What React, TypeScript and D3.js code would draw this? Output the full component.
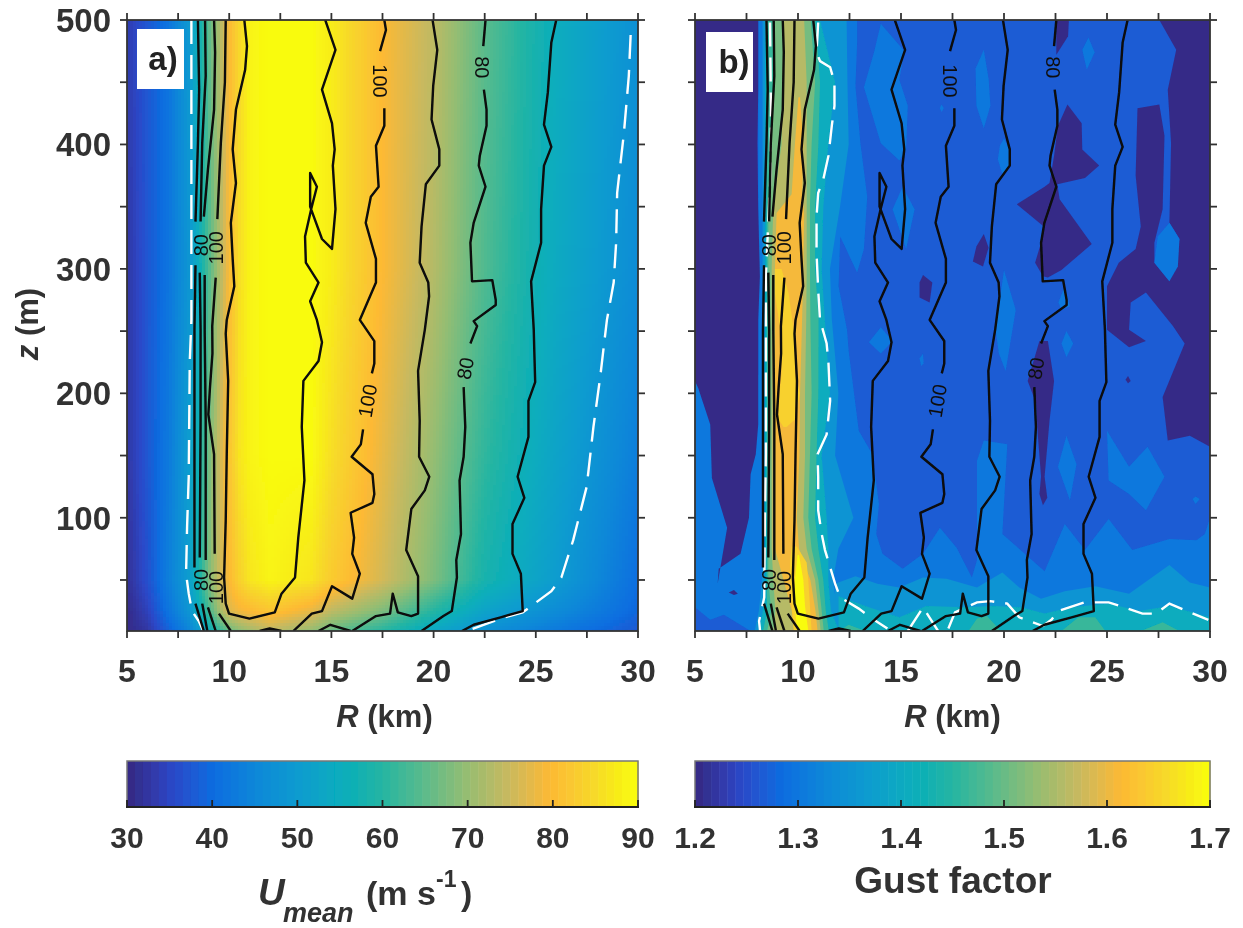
import React, { useRef, useEffect } from "react";
import * as d3 from "d3";

type Pt = [number, number];

// tick labels
const rTicks = [5, 10, 15, 20, 25, 30];
const rMinorTicks = [5, 7.5, 10, 12.5, 15, 17.5, 20, 22.5, 25, 27.5, 30];
const zTicks = [100, 200, 300, 400, 500];
const zMinorTicks = [50, 100, 150, 200, 250, 300, 350, 400, 450, 500];
const uTicks = [30, 40, 50, 60, 70, 80, 90];
const gustTicks = [1.2, 1.3, 1.4, 1.5, 1.6, 1.7];

const colorStops = ["#352a87", "#2c48c8", "#0a6ee0", "#1088d8", "#0a9ccf", "#07adbd", "#25b5a2", "#5bbb8b", "#95bd72", "#c8b95f", "#fdb934", "#f7d72b", "#f9fb0e"];

// panel a, mean wind read along rows of constant height
const fieldR = [5, 6, 7, 8, 8.5, 9, 9.5, 10, 10.5, 11, 12, 14, 15, 17.5, 20, 22.5, 26, 30];
const fieldZ = [500, 300, 150, 50, 25, 9];
const u500 = [33, 37, 41, 49, 56, 65, 72, 80, 85, 89, 90, 90, 88, 80, 74, 65, 55, 47];
const u300 = [32, 37, 41, 48, 55, 64, 72, 80, 86, 89, 90, 90, 88, 80, 73, 64, 54, 46];
const u150 = [32, 37, 42, 50, 57, 67, 75, 82, 87, 89, 90, 90, 86, 78, 70, 61, 52, 43];
const u50 = [31, 36, 43, 50, 58, 68, 75, 80, 84, 87, 89, 87, 83, 76, 68, 58, 50, 40];
const u25 = [30, 34, 41, 48, 55, 63, 71, 77, 79, 80, 82, 78, 74, 68, 60, 52, 46, 39];
const u9 = [30, 32, 38, 44, 49, 55, 61, 66, 69, 71, 74, 70, 66, 60, 53, 47, 42, 37];
const fieldRows = [u500, u300, u150, u50, u25, u9];

// black contours, shared by both panels, broken where labels sit
const c60: Pt[] = [[26, 500], [25.76, 482], [25.59, 442], [25.4, 416], [25.76, 398], [25.4, 383], [25.26, 348], [25.26, 321], [24.77, 290], [24.9, 251], [24.93, 232], [24.97, 209], [24.64, 194], [24.64, 165], [24.11, 133], [24.44, 116], [23.86, 95], [23.86, 71], [24.27, 55], [24.36, 25], [23.28, 20], [21.96, 14], [21.39, 9]];
const c80a: Pt[] = [[22.54, 500], [22.43, 479]];
const c80b: Pt[] = [[22.46, 444], [22.59, 428], [22.59, 415], [22.26, 391], [22.21, 383], [22.54, 366], [21.96, 337], [21.8, 321], [21.88, 290], [22.87, 291], [23.04, 275], [23.04, 271], [21.96, 258], [22.13, 254], [21.8, 240]];
const c80c: Pt[] = [[21.47, 205], [21.55, 173], [21.47, 149], [21.27, 130], [21.34, 87], [21.11, 66], [21.14, 52], [20.89, 25], [20.48, 21], [19.41, 9]];
const c90: Pt[] = [[19.95, 500], [20.18, 476], [19.98, 447], [19.9, 420], [20.28, 396], [20.28, 383], [19.62, 368], [19.41, 334], [19.32, 305], [19.74, 289], [19.78, 278], [19.57, 251], [19.24, 218], [19.32, 178], [19.29, 149], [19.79, 133], [19.57, 122], [18.91, 107], [18.66, 74], [19.24, 53], [19.24, 23], [18.91, 21], [18.25, 24], [18, 39], [17.87, 23], [17.18, 21], [16.02, 9]];
const c100a: Pt[] = [[17.59, 500], [17.67, 492], [17.38, 475]];
const c100b: Pt[] = [[17.59, 429], [17.59, 415], [17.18, 399], [17.31, 366], [16.93, 358], [16.68, 337], [17.18, 308], [17.18, 289], [16.39, 259], [17.1, 242], [17.1, 224], [16.98, 216]];
const c100c: Pt[] = [[16.55, 171], [16.44, 159], [15.99, 149], [17.01, 135], [17.1, 119], [17.01, 112], [15.94, 104], [16.11, 84], [16.02, 71], [16.39, 55], [16.02, 35], [15.03, 45], [14.54, 25], [14.04, 23], [13.14, 9]];
const bump1: Pt[] = [[14.37, 9], [14.95, 14], [15.94, 9]];
const bump2: Pt[] = [[11.49, 9], [11.98, 11], [12.56, 9]];
const c110: Pt[] = [[14.7, 500], [15.2, 476], [14.54, 444], [15.03, 417], [15.16, 396], [15.07, 383], [15.2, 348], [15.03, 316], [14.54, 324], [13.96, 350], [13.96, 377], [14.29, 366], [14.01, 348], [13.71, 326], [13.75, 305], [14.37, 289], [13.96, 274], [14.29, 259], [14.54, 241], [14.37, 226], [13.63, 210], [13.55, 173], [13.68, 130], [13.38, 84], [13.22, 52], [12.56, 39], [12.23, 24], [10.99, 19], [9.99, 23], [9.83, 31], [9.75, 52], [9.83, 98], [9.88, 151], [9.95, 210], [9.83, 248], [9.88, 259], [10.25, 286], [10.17, 308], [10.08, 337], [10.33, 369], [10.17, 396], [10.33, 428], [10.78, 460], [10.87, 479], [10.74, 500]];
const leftA1: Pt[] = [[9.83, 500], [9.79, 450], [9.59, 401], [9.42, 340]];
const leftA2: Pt[] = [[9.34, 293], [9.17, 254], [9.18, 232], [9.06, 205], [8.98, 183], [9.26, 151], [9.29, 71]];
const leftA3: Pt[] = [[9.5, 23], [10.08, 9]];
const leftB1: Pt[] = [[9.26, 500], [9.31, 474], [9.26, 428], [8.96, 380], [8.76, 342]];
const leftB2: Pt[] = [[8.8, 295], [8.8, 251], [8.85, 178], [8.85, 66]];
const leftB3: Pt[] = [[8.96, 28], [9.34, 9]];
const leftC1: Pt[] = [[8.82, 500], [8.85, 455], [8.68, 401], [8.6, 338]];
const leftC2: Pt[] = [[8.56, 297], [8.6, 251], [8.6, 178], [8.56, 68]];
const leftC3: Pt[] = [[8.68, 31], [8.93, 9]];
const leftD1: Pt[] = [[8.47, 500], [8.53, 444], [8.47, 401], [8.35, 338]];
const leftD2: Pt[] = [[8.35, 303], [8.3, 251], [8.3, 178], [8.3, 60]];
const leftD3: Pt[] = [[8.35, 31], [8.76, 9]];
const contourLines = [c60, c80a, c80b, c80c, c90, c100a, c100b, c100c, bump1, bump2, c110, leftA1, leftA2, leftA3, leftB1, leftB2, leftB3, leftC1, leftC2, leftC3, leftD1, leftD2, leftD3];

const contourLabelText = ["100", "80", "80", "100", "80", "100", "100", "80"];
const contourLabelR = [17.38, 22.38, 8.6, 9.34, 8.6, 9.34, 16.77, 21.55];
const contourLabelZ = [451, 462, 319, 317, 50, 44, 194, 220];
const contourLabelAngle = [90, 90, -90, -90, -90, -90, -80, -80];

// white dashed contours
const dashALeft: Pt[] = [[8.15, 500], [8.15, 259], [8.07, 225], [8.02, 133], [7.94, 93], [7.89, 55], [8.02, 39], [8.18, 25], [8.51, 17], [8.73, 9]];
const dashARight: Pt[] = [[29.64, 488], [29.55, 455], [29.31, 409], [28.98, 361], [28.93, 321], [28.81, 289], [28.48, 259], [28.4, 248], [28.15, 213], [27.82, 173], [27.49, 125], [26.83, 82], [26.25, 52], [25.76, 41], [24.36, 24], [23.28, 19], [21.8, 10]];
const dashBLeft: Pt[] = [[8.64, 498], [8.69, 428], [8.66, 375], [8.44, 294], [8.44, 151], [8.39, 98], [8.36, 36], [8.11, 17], [8.16, 9]];
const dashBRight: Pt[] = [[10.98, 498], [10.9, 474], [11.07, 467], [11.56, 462], [11.77, 450], [11.77, 431], [11.64, 415], [11.48, 391], [11.23, 372], [10.98, 361], [10.9, 342], [10.9, 313], [10.98, 283], [11.07, 259], [11.39, 240], [11.48, 224], [11.56, 194], [11.39, 167], [10.95, 151], [10.98, 133], [10.98, 106], [11.15, 87], [11.31, 74], [11.8, 47], [12.05, 36], [12.95, 27], [13.6, 19], [14.34, 11]];
const dashBWiggle: Pt[] = [[15.33, 9], [16.07, 28], [16.8, 9]];
const dashBBottom: Pt[] = [[17.3, 11], [17.62, 24], [18.69, 32], [19.34, 33], [20.16, 31], [20.74, 20], [21.89, 13], [22.3, 18], [22.63, 25], [23.89, 32], [25.08, 32], [25.66, 29], [26.72, 23], [27.38, 23], [28.03, 31], [29.02, 24], [29.92, 18]];

// panel b, filled bands: gust value of each fill
const gustBase = 1.262;
const gustLow = 1.2;
const gust130 = 1.3;
const gust135 = 1.35;
const gust140 = 1.405;
const gust145 = 1.465;
const gust150 = 1.51;
const gust155 = 1.56;
const gust160 = 1.61;
const gust165 = 1.65;
const gust170 = 1.7;

// ridge near R = 8-12 km: left and right edge of each band on these heights
const ridgeZ = [500, 450, 400, 350, 300, 260, 200, 150, 100, 75, 50, 25, 9];
const ridge135L = [8.28, 8.28, 8.28, 8.28, 8.28, 8.28, 8.28, 8.28, 8.28, 8.28, 8.25, 8.1, 7.9];
const ridge135R = [12.36, 12.4, 12.46, 12.04, 11.55, 11.64, 11.96, 11.8, 12.69, 11.96, 11.7, 11.9, 12.5];
const ridge140L = [8.4, 8.4, 8.4, 8.4, 8.4, 8.4, 8.4, 8.4, 8.4, 8.4, 8.4, 8.3, 8.1];
const ridge140R = [11.07, 11.8, 11.47, 11.23, 11.15, 11.3, 11.55, 11.15, 11.39, 11.47, 11.47, 11.6, 12];
const ridge145L = [8.48, 8.48, 8.48, 8.48, 8.48, 8.48, 8.48, 8.48, 8.48, 8.48, 8.48, 8.5, 8.3];
const ridge145R = [10.85, 11.07, 10.99, 10.83, 10.83, 11, 10.99, 10.9, 10.83, 10.99, 11.23, 11.35, 11.5];
const ridge150L = [8.88, 8.88, 8.7, 8.56, 8.56, 8.56, 8.56, 8.56, 8.56, 8.56, 8.56, 8.7, 8.5];
const ridge150R = [10.62, 10.83, 10.66, 10.58, 10.58, 10.6, 10.66, 10.58, 10.5, 10.66, 10.99, 11.15, 11.25];
const ridge155L = [9.29, 9.25, 9.2, 8.8, 8.72, 8.72, 8.72, 8.72, 8.72, 8.72, 8.8, 8.9, 8.8];
const ridge155R = [10.3, 10.42, 10.42, 10.42, 10.42, 10.4, 10.34, 10.34, 10.26, 10.42, 10.83, 11, 11.1];
const orangeZ = [438, 400, 360, 345, 300, 260, 200, 150, 100, 75, 50, 25, 9];
const ridge160L = [10.02, 9.85, 9.69, 8.96, 8.88, 8.88, 8.88, 8.88, 8.88, 8.88, 9.3, 9.7, 9.8];
const ridge160R = [10.1, 10.26, 10.2, 10.3, 10.26, 10.2, 10.1, 10.07, 9.94, 10.05, 10.6, 10.85, 10.95];
const yellowTopZ = [300, 280, 243, 216, 200, 179, 173];
const yellowTopL = [8.88, 8.88, 9.21, 9.21, 9.1, 9.05, 9.3];
const yellowTopR = [9.2, 9.55, 9.85, 9.85, 10.1, 9.85, 9.45];
const yellowLowZ = [77, 64, 50, 29, 9];
const yellowLowL = [9.69, 9.61, 9.61, 9.7, 9.8];
const yellowLowR = [9.94, 10.42, 10.5, 10.58, 10.66];
const peakZ = [70, 50, 29, 9];
const peakL = [9.98, 9.85, 9.85, 9.95];
const peakR = [10.05, 10.26, 10.34, 10.5];

const band130Main: Pt[] = [[5, 9], [5, 215], [8.07, 215], [8.07, 500], [12.87, 500], [12.87, 482], [12.79, 447], [13.03, 401], [13.36, 358], [13.2, 316], [12.87, 297], [12.05, 326], [11.97, 286], [12.38, 251], [12.46, 234], [12.95, 170], [13.61, 151], [13.93, 111], [13.8, 87], [14.1, 71], [15.08, 59], [16.07, 71], [16.89, 92], [17.7, 76], [18.44, 52], [18.69, 66], [18.69, 146], [19.02, 162], [20.16, 159], [19.92, 87], [21.97, 57], [22.95, 95], [23.93, 74], [25.08, 99], [26.23, 74], [28.03, 83], [29.34, 82], [29.75, 87], [30, 100], [30, 9]];
const cornerBase: Pt[] = [[5, 9], [5, 28], [5.74, 18], [6.4, 22], [7.7, 9]];
const band130Blobs: Pt[][] = [
  [[14.02, 497], [15.16, 475], [14.92, 452], [15.33, 431], [15.25, 396], [14.92, 387], [14.02, 401], [13.2, 446], [13.69, 474]],
  [[15.08, 366], [15.66, 348], [15.25, 316], [14.59, 348]],
  [[19.02, 476], [19.26, 452], [19.34, 431], [19.02, 413], [18.66, 431], [18.62, 461]],
  [[24.1, 486], [24.4, 474], [24.02, 460], [23.8, 476]],
  [[16.97, 432], [17.08, 429], [16.97, 426], [16.88, 429]],
  [[20, 405], [20.33, 393], [20.33, 383], [19.92, 376], [19.7, 388], [19.8, 399]],
  [[20, 299], [20.57, 267], [20.08, 218], [19.75, 232], [19.59, 251], [19.75, 270]],
  [[22.95, 286], [23.2, 270], [22.8, 267], [22.64, 273]],
  [[14.02, 253], [14.59, 242], [14.02, 232], [13.44, 241]],
  [[16.07, 232], [16.1, 224], [15.98, 222], [15.9, 228]],
  [[23.03, 250], [23.36, 240], [23.03, 229], [22.79, 240]],
  [[23.03, 166], [23.52, 143], [23.2, 114], [22.62, 141]],
  [[25, 170], [26.07, 141], [26.97, 157], [27.79, 133], [26.89, 106], [26.07, 119], [25.08, 130]],
  [[29.3, 117], [29.5, 115], [29.3, 111], [29.15, 115]],
  [[5.11, 289], [5.21, 273], [5.11, 270], [5.05, 287]],
];
const band135Bottom: Pt[] = [[11.8, 47], [12.79, 53], [13.85, 47], [14.92, 44], [16.07, 52], [17.21, 51], [18.69, 44], [19.92, 56], [20.74, 44], [21.8, 35], [22.95, 41], [24.43, 45], [26.07, 39], [28.03, 62], [29.02, 48], [30, 44], [30, 9], [11.8, 9]];
const band140Bottom: Pt[] = [[11.97, 37], [13.44, 28], [14.92, 20], [16.23, 29], [18.03, 28], [19.51, 29], [20.82, 28], [21.97, 23], [23.28, 28], [25.08, 31], [26.56, 25], [28.03, 29], [30, 20], [30, 9], [11.97, 9]];
const band145Blobs: Pt[][] = [
  [[18.28, 9], [18.69, 19], [19.18, 21], [19.84, 9]],
  [[22.79, 9], [23.61, 20], [24.43, 20], [24.92, 9]],
  [[26.64, 9], [27.7, 16], [28.52, 9]],
  [[11.97, 9], [12.46, 14], [13.28, 9]],
];
const lowBlobs: Pt[][] = [
  [[5, 500], [8.07, 500], [8.07, 444], [8.03, 401], [8.07, 348], [8.15, 294], [8.07, 259], [8.07, 218], [8.07, 175], [7.95, 151], [7.7, 135], [7.62, 100], [7.21, 71], [6.15, 59], [6.1, 47], [6.56, 92], [5.82, 132], [5.74, 175], [5.16, 204], [5, 210]],
  [[6.64, 40], [6.89, 42], [7.08, 39], [6.89, 38]],
  [[27.54, 500], [30, 500], [30, 157], [29.02, 166], [27.95, 162], [27.7, 197], [28.77, 240], [28.2, 254], [26.89, 281], [26.15, 273], [26.07, 251], [26.89, 242], [26.07, 237], [25, 251], [25, 286], [25.57, 305], [26.39, 316], [26.64, 334], [26.39, 375], [26.48, 429], [27.54, 432], [27.79, 407], [27.7, 348], [27.3, 321], [27.3, 305], [28.03, 290], [28.52, 324], [28.03, 337], [28.11, 401], [27.95, 444], [28.36, 476]],
  [[23.08, 432], [23.77, 417], [23.8, 396], [24.62, 383], [23.93, 373], [22.59, 368], [22.7, 356], [24.26, 320], [22.79, 299], [22.13, 293], [21.89, 294], [21.51, 305], [21.89, 326], [21.93, 334], [20.62, 352], [21.97, 366], [22.21, 369], [22.43, 391], [22.62, 415]],
  [[22.54, 500], [23.15, 500], [23.11, 487], [22.54, 472]],
  [[19.02, 328], [19.25, 317], [18.98, 302], [18.49, 306], [18.66, 318]],
  [[16.07, 295], [16.52, 289], [16.39, 273], [15.9, 277], [15.9, 289]],
  [[21.72, 242], [22.13, 242], [22.43, 210], [22.21, 178], [21.97, 133], [22.1, 116], [21.89, 110], [21.72, 119], [21.8, 133], [21.64, 167], [21.56, 192], [21.15, 210]],
  [[26.02, 214], [26.15, 210], [26.02, 208], [25.9, 211]],
];
const islandBlob: Pt[] = [[28.03, 337], [28.52, 324], [28.44, 302], [28.03, 290], [27.3, 305], [27.46, 326]];

const FONT = "'Liberation Sans', Arial, sans-serif";
const INK = "#333";
const top = 20;
const bottom = 631;
const panelA = { left: 127, right: 638 };
const panelB = { left: 695, right: 1210 };
const barTop = 761;
const barBottom = 807;

const colorAt = d3.scaleLinear<string>()
  .domain(colorStops.map((_, i) => i / (colorStops.length - 1)))
  .range(colorStops)
  .clamp(true);
const gustColor = (g: number) => colorAt((g - 1.2) / 0.5);

const yScale = d3.scaleLinear().domain([9, 500]).range([bottom, top]);

// polygon out of a left edge and a right edge on shared heights
const ridgePoly = (zs: number[], l: number[], r: number[]): Pt[] => [
  ...zs.map((z, i): Pt => [l[i], z]),
  ...zs.map((z, i): Pt => [r[i], z]).reverse(),
];

const gustFills: { fill: number; polys: Pt[][] }[] = [
  { fill: gust130, polys: [band130Main, ...band130Blobs] },
  { fill: gustBase, polys: [cornerBase] },
  { fill: gust135, polys: [ridgePoly(ridgeZ, ridge135L, ridge135R), band135Bottom] },
  { fill: gust140, polys: [ridgePoly(ridgeZ, ridge140L, ridge140R), band140Bottom] },
  { fill: gust145, polys: [ridgePoly(ridgeZ, ridge145L, ridge145R), ...band145Blobs] },
  { fill: gust150, polys: [ridgePoly(ridgeZ, ridge150L, ridge150R)] },
  { fill: gust155, polys: [ridgePoly(ridgeZ, ridge155L, ridge155R)] },
  { fill: gust160, polys: [ridgePoly(orangeZ, ridge160L, ridge160R)] },
  { fill: gust165, polys: [ridgePoly(yellowTopZ, yellowTopL, yellowTopR), ridgePoly(yellowLowZ, yellowLowL, yellowLowR)] },
  { fill: gust170, polys: [ridgePoly(peakZ, peakL, peakR)] },
  { fill: gustLow, polys: lowBlobs },
  { fill: gust130, polys: [islandBlob] },
];

const Panel = ({ id, box, tag, dashes, showZ, children }: any) => {
  const x = d3.scaleLinear().domain([5, 30]).range([box.left, box.right]);
  const line = d3.line<Pt>().x(d => x(d[0])).y(d => yScale(d[1]));
  const tickLen = 7;
  const isB = tag === "b)";
  return (
    <g>
      <clipPath id={id}>
        <rect x={box.left} y={top} width={box.right - box.left} height={bottom - top} />
      </clipPath>
      <g clipPath={`url(#${id})`}>
        {children(x, line)}
        {dashes.map((d: Pt[], i: number) => (
          <path key={i} d={line(d) as string} fill="none" stroke="#fff" strokeWidth={2.4} strokeDasharray="24 11" />
        ))}
        {contourLines.map((d, i) => (
          <path key={i} d={line(d) as string} fill="none" stroke="#0a0a0a" strokeWidth={2.4} strokeLinejoin="round" />
        ))}
        {contourLabelText.map((t, i) => (
          <text key={i} transform={`translate(${x(contourLabelR[i])},${yScale(contourLabelZ[i])}) rotate(${contourLabelAngle[i]})`}
            textAnchor="middle" dominantBaseline="central" fontFamily={FONT} fontSize={20} fill="#111">{t}</text>
        ))}
      </g>
      <rect x={box.left} y={top} width={box.right - box.left} height={bottom - top} fill="none" stroke={INK} strokeWidth={1.8} />
      {rMinorTicks.map(r => (
        <g key={r} stroke={INK} strokeWidth={1.8}>
          <line x1={x(r)} x2={x(r)} y1={top} y2={top - tickLen} />
          <line x1={x(r)} x2={x(r)} y1={bottom} y2={bottom + tickLen} />
        </g>
      ))}
      {zMinorTicks.map(z => (
        <g key={z} stroke={INK} strokeWidth={1.8}>
          <line x1={box.left} x2={box.left - tickLen} y1={yScale(z)} y2={yScale(z)} />
          <line x1={box.right} x2={box.right + tickLen} y1={yScale(z)} y2={yScale(z)} />
        </g>
      ))}
      {rTicks.map(r => (
        <text key={r} x={x(r)} y={682} textAnchor="middle" fontFamily={FONT} fontWeight="bold" fontSize={32} fill={INK}>{r}</text>
      ))}
      {showZ && zTicks.map(z => (
        <text key={z} x={box.left - 16} y={yScale(z) + 12} textAnchor="end" fontFamily={FONT} fontWeight="bold" fontSize={33} fill={INK}>{z}</text>
      ))}
      <text x={(box.left + box.right) / 2 + (isB ? 0 : 2)} y={727} textAnchor="middle" fontFamily={FONT} fontWeight="bold" fontSize={31} fill={INK}>
        <tspan fontStyle="italic">R</tspan> (km)
      </text>
      <rect x={box.left + (isB ? 11 : 10)} y={isB ? 32 : 29} width={47} height={60} fill="#fff" />
      <text x={box.left + (isB ? 39 : 36)} y={isB ? 73 : 70} textAnchor="middle" fontFamily={FONT} fontWeight="bold" fontSize={33} fill="#222">{tag}</text>
    </g>
  );
};

const ColorBar = ({ box, ticks, domain, fmt }: any) => {
  const x = d3.scaleLinear().domain(domain).range([box.left, box.right]);
  const steps = d3.range(0, 64);
  const w = (box.right - box.left) / 64;
  return (
    <g>
      {steps.map(i => (
        <rect key={i} x={box.left + i * w} y={barTop} width={w + 0.5} height={barBottom - barTop} fill={colorAt(i / 63)} />
      ))}
      <rect x={box.left} y={barTop} width={box.right - box.left} height={barBottom - barTop} fill="none" stroke="#777" strokeWidth={1.5} />
      <line x1={box.left - 1} x2={box.right + 1} y1={barBottom} y2={barBottom} stroke="#222" strokeWidth={2} />
      {ticks.map((t: number) => (
        <g key={t}>
          <line x1={x(t)} x2={x(t)} y1={barBottom} y2={barBottom - 7} stroke="#222" strokeWidth={1.8} />
          <text x={x(t)} y={848} textAnchor="middle" fontFamily={FONT} fontWeight="bold" fontSize={30} fill={INK}>{fmt(t)}</text>
        </g>
      ))}
    </g>
  );
};

const App = () => {
  const heatRef = useRef<SVGGElement>(null);

  // panel a: shade the read rows of the wind field on a fine mesh
  useEffect(() => {
    const x = d3.scaleLinear().domain([5, 30]).range([panelA.left, panelA.right]);
    const rowScales = fieldRows.map(row => d3.scaleLinear().domain(fieldR).range(row));
    const zStep = d3.scaleLinear().domain(fieldZ).range(d3.range(fieldZ.length)).clamp(true);
    const uColor = (u: number) => colorAt((u - 30) / 60);
    const cell = 3;
    const cells: { px: number; py: number; c: string }[] = [];
    for (let py = top; py < bottom; py += cell) {
      const pos = zStep(yScale.invert(py + cell / 2));
      const i0 = Math.min(Math.floor(pos), fieldZ.length - 2);
      const f = pos - i0;
      for (let px = panelA.left; px < panelA.right; px += cell) {
        const r = x.invert(px + cell / 2);
        const u = rowScales[i0](r) * (1 - f) + rowScales[i0 + 1](r) * f;
        cells.push({ px, py, c: uColor(u) });
      }
    }
    d3.select(heatRef.current).selectAll("rect").data(cells).join("rect")
      .attr("x", d => d.px).attr("y", d => d.py)
      .attr("width", cell).attr("height", cell)
      .attr("fill", d => d.c).attr("shape-rendering", "crispEdges");
  }, []);

  return (
    <svg width={1243} height={928} style={{ position: "absolute", left: 0, top: 0 }}>
      <defs>
        <filter id="soft" x="0" y="0" width="100%" height="100%">
          <feGaussianBlur stdDeviation={0.5} />
        </filter>
      </defs>
      <rect width={1243} height={928} fill="#fff" />
      <g filter="url(#soft)">
        <rect width={1243} height={928} fill="#fff" />
        <Panel id="clipA" box={panelA} tag="a)" showZ dashes={[dashALeft, dashARight]}>
          {() => <g ref={heatRef} />}
        </Panel>
        <Panel id="clipB" box={panelB} tag="b)" showZ={false} dashes={[dashBLeft, dashBRight, dashBWiggle, dashBBottom]}>
          {(x: any) => {
            const poly = d3.line<Pt>().x(d => x(d[0])).y(d => yScale(d[1])).curve(d3.curveLinearClosed);
            return (
              <g>
                <rect x={panelB.left} y={top} width={panelB.right - panelB.left} height={bottom - top} fill={gustColor(gustBase)} />
                {gustFills.map((f, i) => (
                  <g key={i} fill={gustColor(f.fill)}>
                    {f.polys.map((p, j) => <path key={j} d={poly(p) as string} />)}
                  </g>
                ))}
              </g>
            );
          }}
        </Panel>

        <text transform="translate(38,324) rotate(-90)" textAnchor="middle" fontFamily={FONT} fontWeight="bold" fontSize={31} fill={INK}>
          <tspan fontStyle="italic">z</tspan> (m)
        </text>

        <ColorBar box={panelA} ticks={uTicks} domain={[30, 90]} fmt={(t: number) => String(t)} />
        <ColorBar box={panelB} ticks={gustTicks} domain={[1.2, 1.7]} fmt={(t: number) => t.toFixed(1)} />

        <g fontFamily={FONT} fontWeight="bold" fill={INK}>
          <text x={258} y={905} fontSize={37} fontStyle="italic">U</text>
          <text x={283} y={922} fontSize={27} fontStyle="italic">mean</text>
          <text x={366} y={905} fontSize={34}>(m s</text>
          <text x={436} y={887} fontSize={23}>-1</text>
          <text x={461} y={905} fontSize={34}>)</text>
          <text x={953} y={893} textAnchor="middle" fontSize={37}>Gust factor</text>
        </g>
      </g>
    </svg>
  );
};

export default App;
